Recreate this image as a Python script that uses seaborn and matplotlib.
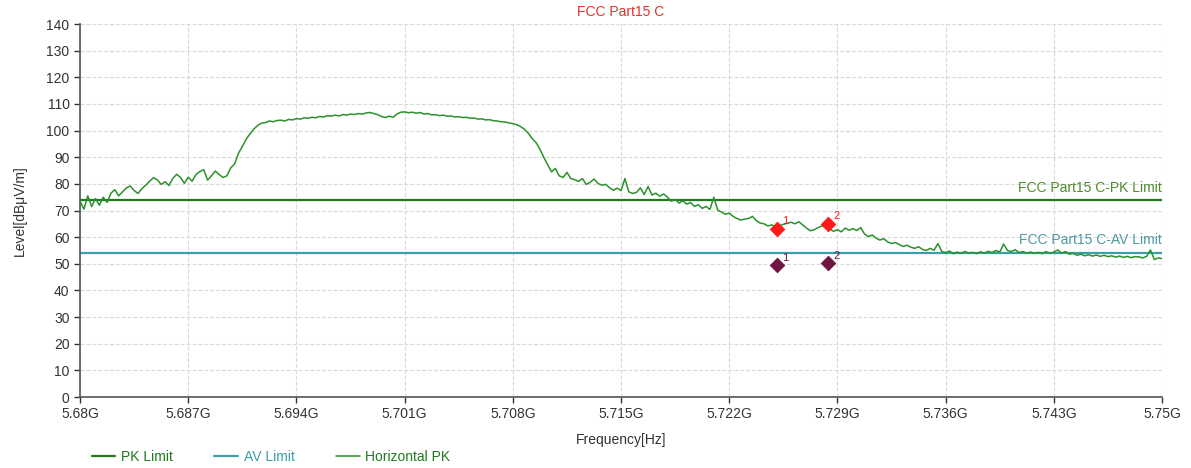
#!/usr/bin/env python3
import numpy as np
import pandas as pd
import matplotlib
matplotlib.use("Agg")
import matplotlib.pyplot as plt
import seaborn as sns

sweep_start = 5.68
sweep_stop = 5.75
level_pk = [
    73.5, 70.5, 75.5, 71.5, 74.5, 72.0, 75.0, 73.0, 76.5, 77.8,
    75.5, 77.0, 78.5, 79.2, 77.5, 76.4, 78.2, 79.5, 81.0, 82.3,
    81.5, 79.8, 80.8, 79.4, 82.0, 83.6, 82.4, 80.2, 82.5, 81.0,
    83.5, 84.6, 85.3, 81.4, 83.0, 84.8, 83.5, 82.4, 83.0, 86.0,
    87.5, 91.5, 94.0, 96.8, 98.8, 100.6, 102.0, 102.8, 103.0, 103.6,
    103.3, 103.8, 103.9, 103.6, 104.2, 104.0, 104.5, 104.3, 104.8, 104.6,
    105.0, 104.8, 105.3, 105.1, 105.6, 105.4, 105.8, 105.5, 106.0, 105.8,
    106.2, 106.0, 106.4, 106.2, 106.6, 106.8, 106.4, 106.0, 105.3, 104.9,
    105.4, 105.0, 106.2, 106.9, 107.0, 106.7, 106.9, 106.5, 106.8, 106.2,
    106.4, 105.9, 106.0, 105.6, 105.8, 105.4, 105.5, 105.1, 105.2, 104.9,
    105.0, 104.6, 104.7, 104.3, 104.4, 104.0, 104.1, 103.7, 103.6, 103.3,
    103.2, 102.9, 102.6, 102.2, 101.5, 100.5, 99.0, 97.0, 95.5, 93.0,
    90.0, 87.2, 84.5, 85.8, 83.0, 82.4, 84.3, 82.0, 81.6, 80.9,
    82.0, 79.8, 80.6, 81.8, 80.2, 79.5, 79.8, 78.6, 77.6, 78.4,
    77.5, 82.0, 77.0, 76.4, 76.8, 78.5, 76.0, 79.0, 75.8, 76.5,
    75.4, 76.2, 75.0, 73.5, 74.2, 72.8, 73.6, 72.4, 73.0, 71.5,
    72.2, 70.8, 71.5, 70.4, 75.0, 70.2, 69.4, 68.6, 69.0, 67.8,
    67.0, 66.4, 66.8, 67.0, 67.8, 66.2, 65.3, 65.0, 64.2, 64.6,
    63.8, 64.3, 64.8, 65.2, 65.6, 65.0, 65.8, 64.6, 63.4, 62.4,
    62.8, 63.6, 64.2, 64.0, 63.0, 62.2, 62.8, 62.0, 63.4, 62.6,
    63.2, 62.5, 63.6, 61.2, 60.2, 60.8, 59.6, 58.9, 59.4, 58.2,
    57.6, 58.0, 57.2, 56.5, 57.0, 56.2, 55.8, 56.4, 55.4, 55.0,
    55.8, 55.1, 57.6, 54.6, 54.2, 54.8, 53.8, 54.4, 53.9, 54.6,
    54.0, 54.3, 53.8, 54.5, 54.0, 54.7, 54.2, 55.0, 54.4, 57.4,
    55.0, 54.6, 55.3, 54.2, 54.6, 54.0, 54.4, 53.9, 54.3, 53.8,
    54.6, 53.9, 54.4, 55.2, 54.0, 54.6, 53.6, 53.9, 53.2, 53.6,
    53.0, 53.4, 52.9, 53.3, 52.8, 53.2, 52.7, 53.0, 52.5, 52.9,
    52.4, 52.8, 52.3, 52.7, 52.6, 52.2, 52.8, 55.2, 51.6, 52.2,
    52.0,
]

pk_limit = 74.0
av_limit = 54.0

marker_ids = ["1", "2"]
marker_freq = [5.72507, 5.72841]
marker_pk = [63.2, 65.1]
marker_av = [49.6, 50.2]

x_ticks = [5.68, 5.687, 5.694, 5.701, 5.708, 5.715, 5.722, 5.729, 5.736, 5.743, 5.75]
x_tick_labels = ["5.68G", "5.687G", "5.694G", "5.701G", "5.708G", "5.715G",
                 "5.722G", "5.729G", "5.736G", "5.743G", "5.75G"]
y_ticks = list(range(0, 141, 10))

c_trace = "#2a922a"
c_pk = "#1f7a1f"
c_av = "#3a9fa6"
c_pk_mark = "#ff1a1a"
c_av_mark = "#6e1540"
c_text = "#333333"

sns.set_style("whitegrid", {"grid.linestyle": "--", "grid.color": "#dadada"})
plt.rcParams["font.family"] = ["Liberation Sans", "DejaVu Sans"]

trace = pd.DataFrame({
    "freq": np.linspace(sweep_start, sweep_stop, len(level_pk)),
    "level": level_pk,
})
marks = pd.DataFrame({"id": marker_ids, "freq": marker_freq, "pk": marker_pk, "av": marker_av})

fig = plt.figure(figsize=(11.91, 4.68), dpi=100, facecolor="white")
ax = fig.add_axes([0.0672, 0.1517, 0.9085, 0.797])

ax.axhline(pk_limit, color=c_pk, linewidth=1.6, label="PK Limit", zorder=2)
ax.axhline(av_limit, color=c_av, linewidth=1.6, label="AV Limit", zorder=2)
sns.lineplot(data=trace, x="freq", y="level", ax=ax, color=c_trace, linewidth=1.1,
             label="Horizontal PK", zorder=3)
sns.scatterplot(data=marks, x="freq", y="pk", ax=ax, marker="D", s=55, color=c_pk_mark,
                edgecolor=c_pk_mark, zorder=5, legend=False)
sns.scatterplot(data=marks, x="freq", y="av", ax=ax, marker="D", s=55, color=c_av_mark,
                edgecolor=c_av_mark, zorder=5, legend=False)
for _, r in marks.iterrows():
    ax.annotate(r["id"], (r["freq"], r["pk"]), xytext=(4, 3), textcoords="offset points",
                fontsize=8, color=c_pk_mark)
    ax.annotate(r["id"], (r["freq"], r["av"]), xytext=(4, 3), textcoords="offset points",
                fontsize=8, color=c_av_mark)

ax.text(sweep_stop, pk_limit + 2.0, "FCC Part15 C-PK Limit", ha="right", va="bottom",
        fontsize=10, color="#4f8a2c")
ax.text(sweep_stop, av_limit + 2.4, "FCC Part15 C-AV Limit", ha="right", va="bottom",
        fontsize=10, color="#4e97a3")

ax.set_xlim(sweep_start, sweep_stop)
ax.set_ylim(0, 140)
ax.set_xticks(x_ticks)
ax.set_xticklabels(x_tick_labels)
ax.set_yticks(y_ticks)
ax.tick_params(axis="both", labelsize=10, colors=c_text, length=4, width=1, direction="out",
               bottom=True, left=True)
for s in ["top", "right"]:
    ax.spines[s].set_visible(False)
for s in ["left", "bottom"]:
    ax.spines[s].set_color("#555555")
    ax.spines[s].set_linewidth(1.2)

ax.set_xlabel("Frequency[Hz]", fontsize=10, color=c_text, labelpad=8)
ax.set_ylabel("Level[dBμV/m]", fontsize=10, color=c_text, labelpad=14)
ax.set_title("FCC Part15 C", fontsize=10, color="#e8302a", pad=6)

leg = ax.legend(loc="center left", bbox_to_anchor=(0.077, 0.024), bbox_transform=fig.transFigure,
                ncol=3, frameon=False, fontsize=10, handlelength=1.7, columnspacing=3.0,
                handletextpad=0.4, borderpad=0.0, borderaxespad=0.0)
for txt, col in zip(leg.get_texts(), [c_pk, c_av, c_pk]):
    txt.set_color(col)

fig.savefig("out.png", dpi=100, facecolor="white")
